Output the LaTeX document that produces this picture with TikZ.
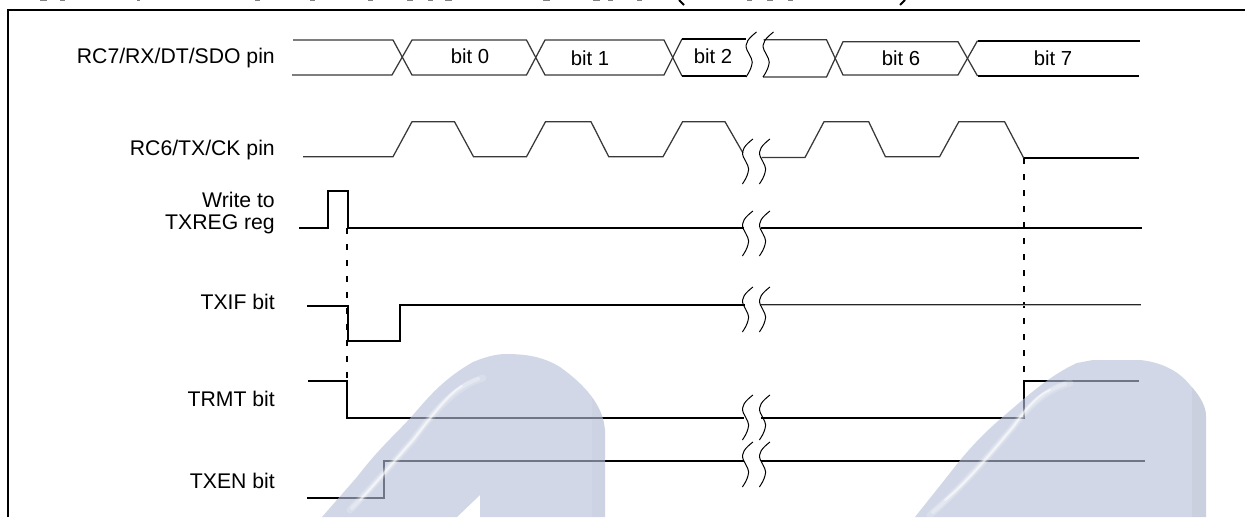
\documentclass[tikz,border=0pt]{standalone}
\usepackage{fontspec}
\setmainfont{Liberation Sans}
\newcommand{\squig}[2]{%
  \draw[breakline] (#1+10.5,#2) .. controls (#1+3,#2+6) and (#1-2,#2+11) .. (#1+1,#2+18)
     .. controls (#1+4,#2+24) and (#1+8,#2+29) .. (#1+5.5,#2+34)
     .. controls (#1+4.5,#2+38) and (#1+2,#2+42) .. (#1,#2+45);
  \draw[breakline] (#1+27.5,#2) .. controls (#1+20,#2+6) and (#1+15,#2+11) .. (#1+18,#2+18)
     .. controls (#1+21,#2+24) and (#1+25,#2+29) .. (#1+22.5,#2+34)
     .. controls (#1+21.5,#2+38) and (#1+19,#2+42) .. (#1+17,#2+45);
}
\newcommand{\archleft}{(322,517) -- (357,477) .. controls (380,447) and (395,435) .. (413,415)
   .. controls (430,395) and (445,378) .. (473,362) .. controls (490,355) and (500,354) .. (506,354)
   .. controls (530,354) and (545,358) .. (560,367) .. controls (585,385) and (603,405) .. (605,430)
   -- (605,517) -- (480,517) -- (480,495) -- (457,517) -- cycle}
\newcommand{\archright}{(915,517) -- (950,473) .. controls (970,447) and (985,432) .. (1005,415)
   .. controls (1025,398) and (1050,375) .. (1077,363) -- (1093,360) -- (1140,360)
   .. controls (1160,362) and (1178,370) .. (1190,385) .. controls (1202,398) and (1206,408) .. (1206,416)
   -- (1206,517) -- cycle}
\tikzset{
  sig/.style={line width=1.9pt,black,line join=miter},
  thinsig/.style={line width=1.25pt,black!78,line join=miter},
  breakline/.style={line width=1pt,black},
  dashv/.style={line width=1.9pt,black,dash pattern=on 5.5pt off 10.5pt},
  frameline/.style={line width=2.2pt,black},
  lab/.style={anchor=base east,inner sep=0pt,font=\fontsize{21.2}{21.2}\selectfont},
  bitlab/.style={anchor=base,inner sep=0pt,font=\fontsize{20.3}{20.3}\selectfont},
  blob/.style={fill=black!50,draw=none},
  wm/.style={fill={rgb,1:red,0.71;green,0.75;blue,0.85},fill opacity=0.62,draw=none},
  streak/.style={draw=white,line cap=round,line join=round},
}
\begin{document}
\begin{tikzpicture}[x=1pt,y=-1pt]
\useasboundingbox (0,0) rectangle (1245,517);
\fill[white] (0,0) rectangle (1245,517);
% remnants of the heading cut off by the top edge
\foreach \a/\b in {40/47,60/65,137/140,255/260,310/315,368/373,407/413,428/433,445/452,543/550,593/600,608/613,637/642,747/752,767/773,788/793}
  \fill[blob] (\a,0) rectangle (\b,1.2);
\draw[line width=2pt] (679,0) -- (684,5);
\draw[line width=2pt] (905,0) -- (900,5);
% frame
\draw[frameline] (7.7,517) -- (7.7,10) -- (1245,10);
% labels
\node[lab] (l1) at (275,63.5) {RC7/RX/DT/SDO pin};
\node[lab] (l2) at (275,155) {RC6/TX/CK pin};
\node[lab] (l3a) at (275,207) {Write to};
\node[lab] (l3b) at (275,229) {TXREG reg};
\node[lab] (l4) at (275,309) {TXIF bit};
\node[lab] (l5) at (275,406) {TRMT bit};
\node[lab] (l6) at (275,488) {TXEN bit};
\node[bitlab] (b0) at (470,63) {bit 0};
\node[bitlab] (b1) at (590,65) {bit 1};
\node[bitlab] (b2) at (713,63) {bit 2};
\node[bitlab] (b6) at (901,65) {bit 6};
\node[bitlab] (b7) at (1053,65) {bit 7};
% RC7 bus
\draw[thinsig] (293,40) -- (393,40) -- (412,75) -- (526.5,75) -- (545,40) -- (664,40) -- (682,76);
\draw[thinsig] (292,75) -- (392,75) -- (412,40) -- (526.5,40) -- (545,75) -- (664,75) -- (682,39);
\draw[sig] (682,38.7) -- (745.5,38.7);
\draw[sig] (682,76) -- (745.5,76);
\draw[thinsig] (763.5,39.7) -- (826.5,39.7) -- (843,75) -- (958,75) -- (977.5,40.7);
\draw[thinsig] (763,77) -- (826.5,77) -- (843,41.7) -- (958,41.7) -- (977.5,76);
\draw[sig] (977.5,40.7) -- (1140,40.7);
\draw[sig] (977.5,76) -- (1139,76);
\squig{746}{32}
% RC6
\draw[thinsig] (303,156.7) -- (393,156.7) -- (412,121.7) -- (454.5,121.7) -- (473.5,156.7) -- (526.5,156.7) -- (545.5,121.7) -- (591,121.7) -- (608.7,156.7) -- (663,156.7) -- (682.6,121.7) -- (725,121.7) -- (743,153);
\draw[thinsig] (761.5,157.5) -- (805,157.5) -- (824,121.7) -- (868.7,121.7) -- (885.4,156.7) -- (939.6,156.7) -- (958.8,121.7) -- (1004.6,121.7) -- (1023.7,158);
\draw[sig] (1023.7,158) -- (1139,158);
\squig{742.4}{139}
% dashed guides
\draw[dashv] (347,228) -- (347,381);
\draw[dashv] (1023.7,158) -- (1023.7,381);
% Write to TXREG
\draw[sig] (299,228) -- (328,228) -- (328,190.7) -- (348,190.7) -- (348,228) -- (744,228);
\draw[sig] (761,228) -- (1142,228);
\squig{742.4}{211}
% TXIF
\draw[sig] (307,305.7) -- (348,305.7) -- (348,340.7) -- (399.6,340.7) -- (399.6,304.7) -- (745,304.7);
\draw[line width=2.2pt,black!28] (761,305.3) -- (1141,305.3);
\draw[line width=1pt,black!85] (761,304.8) -- (1141,304.8);
\squig{742.4}{287}
% TRMT
\draw[sig] (308,380.7) -- (347,380.7) -- (347,418) -- (744,418);
\draw[sig] (761,418) -- (1023.7,418) -- (1023.7,380.7) -- (1139,380.7);
\squig{742.4}{395}
% TXEN
\draw[sig] (307,498) -- (384,498) -- (384,461) -- (744,461);
\draw[sig] (761,461) -- (1145,461);
\squig{742.4}{442}
% watermark over the traces
\path[wm] \archleft;
\path[wm] \archright;
% darker rim at the right of each arch
\begin{scope}
  \clip \archright;
  \fill[black!40,fill opacity=0.10] (1192,340) rectangle (1206,517);
\end{scope}
\begin{scope}
  \clip \archleft;
  \fill[black!40,fill opacity=0.06] (592,340) rectangle (605,517);
\end{scope}
% highlight streaks
\draw[streak,line width=7pt,draw opacity=0.18] (483,378) .. controls (460,385) and (440,403) .. (413,440) .. controls (395,460) and (377,482) .. (350,510);
\draw[streak,line width=4pt,draw opacity=0.28] (478,379) .. controls (456,387) and (440,403) .. (413,440) .. controls (395,460) and (377,482) .. (352,508);
\draw[streak,line width=2pt,draw opacity=0.55] (462,386) .. controls (450,393) and (438,408) .. (413,440) .. controls (395,460) and (377,482) .. (360,500);
\draw[streak,line width=7pt,draw opacity=0.18] (1070,383) .. controls (1050,388) and (1030,403) .. (1013,427) .. controls (1000,442) and (965,485) .. (930,515);
\draw[streak,line width=4pt,draw opacity=0.28] (1065,384) .. controls (1048,389) and (1030,403) .. (1013,427) .. controls (1000,442) and (965,485) .. (933,512);
\draw[streak,line width=2pt,draw opacity=0.55] (1050,390) .. controls (1040,394) and (1030,403) .. (1013,427) .. controls (1000,442) and (970,480) .. (945,500);
\end{tikzpicture}
\end{document}
